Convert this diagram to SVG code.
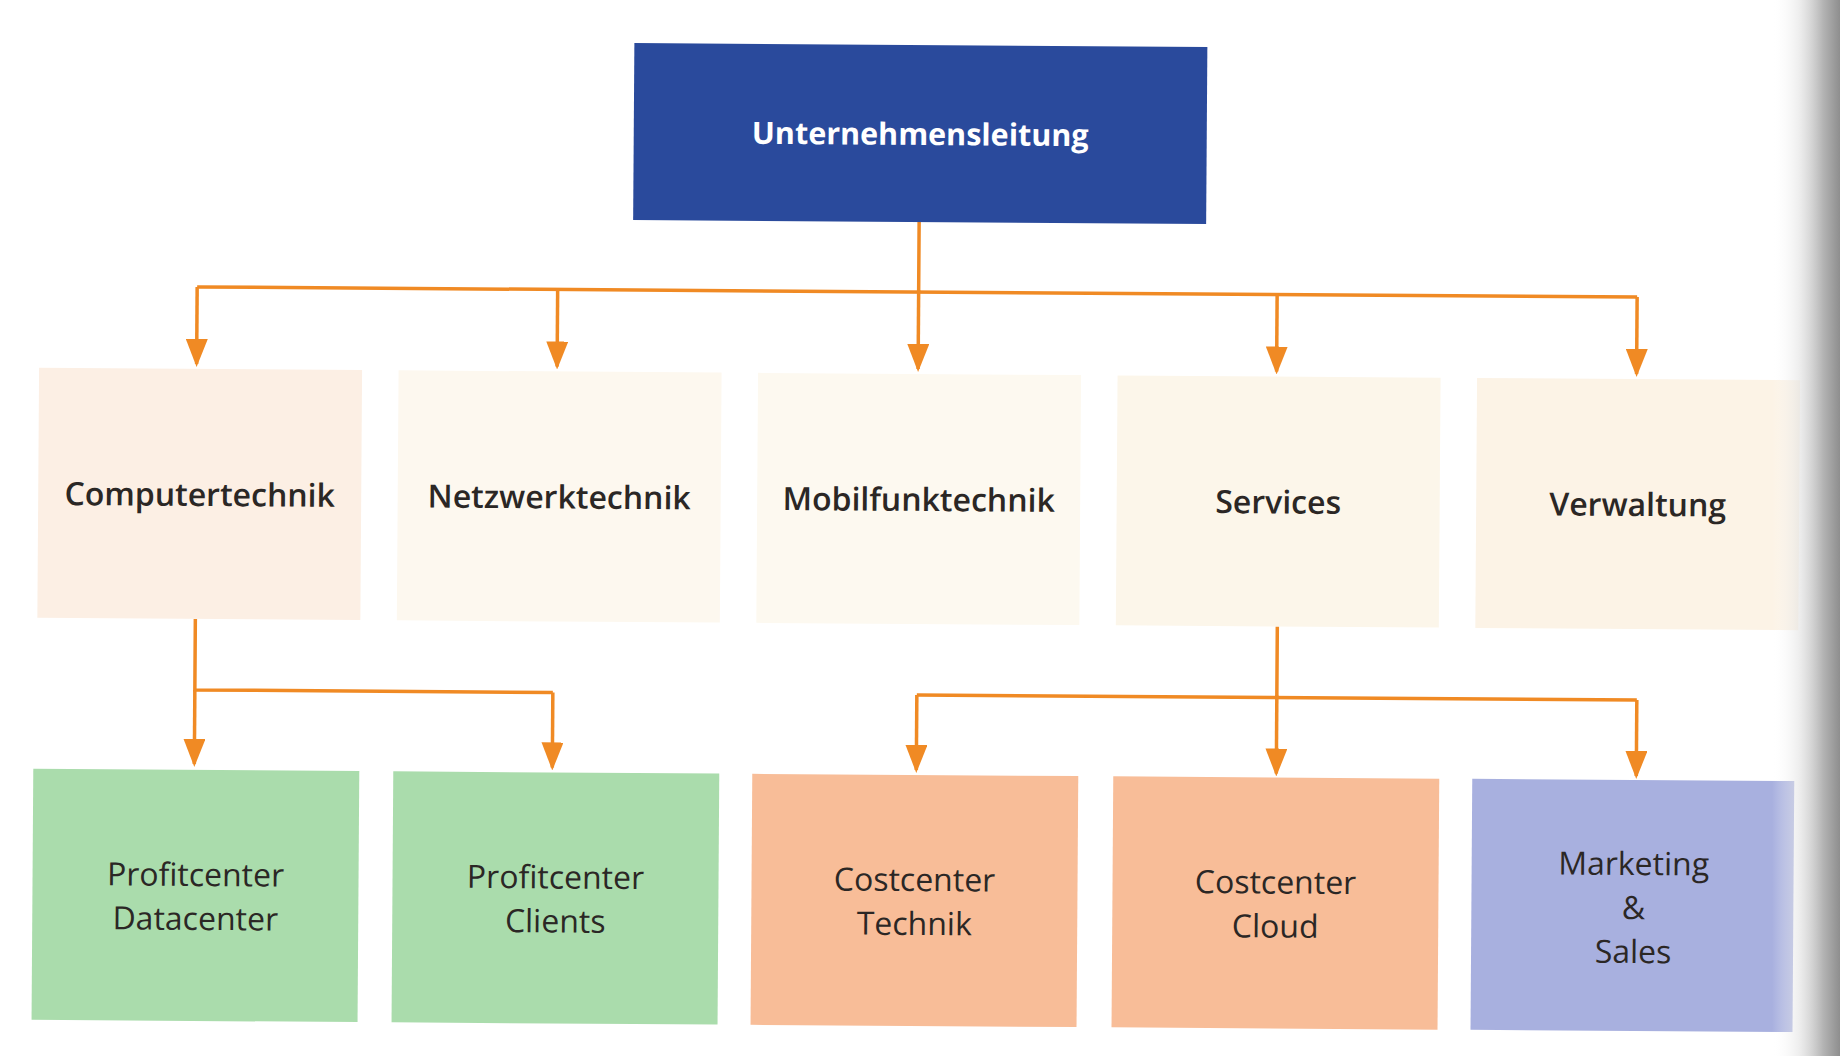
<svg xmlns="http://www.w3.org/2000/svg" width="1840" height="1056" viewBox="0 0 1840 1056">
  <style>
    .lbl { font-family: "Open Sans", "Noto Sans", "Liberation Sans", sans-serif; fill: #2b2725; text-anchor: middle; }
    .l1 { font-size: 32px; font-weight: 600; }
    .l2 { font-size: 32px; font-weight: 400; }
    .top { font-family: "Open Sans", "Noto Sans", "Liberation Sans", sans-serif; font-size: 30.5px; font-weight: 700; fill: #ffffff; text-anchor: middle; }
    .conn { fill: none; stroke: #f08a24; stroke-width: 3.5; }
  </style>
  <defs>
    <marker id="arr" markerUnits="userSpaceOnUse" markerWidth="28" markerHeight="22" viewBox="0 0 28 22" refX="25" refY="11" orient="auto">
      <path d="M0,0 L28,11 L0,22 z" fill="#f08a24"/>
    </marker>
    <linearGradient id="edge" x1="0" y1="0" x2="1" y2="0">
      <stop offset="0" stop-color="#ffffff" stop-opacity="0"/>
      <stop offset="0.4" stop-color="#e2e2e2" stop-opacity="0.6"/>
      <stop offset="0.75" stop-color="#b4b4b4"/>
      <stop offset="1" stop-color="#8e8e8e"/>
    </linearGradient>
  </defs>
  <rect x="0" y="0" width="1840" height="1056" fill="#ffffff"/>
  <g transform="rotate(0.4 920 528)">
    <g id="connectors">
      <path class="conn" d="M917,222 V292 M195.5,292 H1635.5"/>
      <path class="conn" marker-end="url(#arr)" d="M195.5,292 V369"/>
      <path class="conn" marker-end="url(#arr)" d="M556,292 V369"/>
      <path class="conn" marker-end="url(#arr)" d="M917,292 V369"/>
      <path class="conn" marker-end="url(#arr)" d="M1275.5,292 V369"/>
      <path class="conn" marker-end="url(#arr)" d="M1635.5,292 V369"/>
      <path class="conn" d="M196,624 V695 H554"/>
      <path class="conn" marker-end="url(#arr)" d="M196,695 V769"/>
      <path class="conn" marker-end="url(#arr)" d="M554,695 V770"/>
      <path class="conn" d="M1278,624 V695 M918,695 H1638"/>
      <path class="conn" marker-end="url(#arr)" d="M918,695 V770"/>
      <path class="conn" marker-end="url(#arr)" d="M1278,695 V771"/>
      <path class="conn" marker-end="url(#arr)" d="M1638,695 V771"/>
    </g>
    <g id="unternehmensleitung">
      <rect x="631" y="45" width="573" height="177" fill="#2a4a9c"/>
      <text class="top" x="917.5" y="145">Unternehmensleitung</text>
    </g>
    <g id="computertechnik">
      <rect x="38" y="374" width="323" height="250" fill="#fcefe4"/>
      <text class="lbl l1" x="199.5" y="511">Computertechnik</text>
    </g>
    <g id="netzwerktechnik">
      <rect x="397.5" y="374" width="323" height="250" fill="#fdf8ef"/>
      <text class="lbl l1" x="559" y="511">Netzwerktechnik</text>
    </g>
    <g id="mobilfunktechnik">
      <rect x="757" y="374" width="323" height="250" fill="#fdf9f0"/>
      <text class="lbl l1" x="918.5" y="511">Mobilfunktechnik</text>
    </g>
    <g id="services">
      <rect x="1116.5" y="374" width="323" height="250" fill="#fcf6ea"/>
      <text class="lbl l1" x="1278" y="511">Services</text>
    </g>
    <g id="verwaltung">
      <rect x="1476" y="374" width="323" height="250" fill="#fcf3e6"/>
      <text class="lbl l1" x="1637.5" y="511">Verwaltung</text>
    </g>
    <g id="profitcenter-datacenter">
      <rect x="35" y="775" width="326" height="251" fill="#aadcac"/>
      <text class="lbl l2" x="198" y="891">Profitcenter</text>
      <text class="lbl l2" x="198" y="935">Datacenter</text>
    </g>
    <g id="profitcenter-clients">
      <rect x="395" y="775" width="326" height="251" fill="#aadcac"/>
      <text class="lbl l2" x="558" y="891">Profitcenter</text>
      <text class="lbl l2" x="558" y="935">Clients</text>
    </g>
    <g id="costcenter-technik">
      <rect x="754" y="775" width="326" height="251" fill="#f8bd98"/>
      <text class="lbl l2" x="917" y="891">Costcenter</text>
      <text class="lbl l2" x="917" y="935">Technik</text>
    </g>
    <g id="costcenter-cloud">
      <rect x="1115" y="775" width="326" height="251" fill="#f8bd98"/>
      <text class="lbl l2" x="1278" y="891">Costcenter</text>
      <text class="lbl l2" x="1278" y="935">Cloud</text>
    </g>
    <g id="marketing-sales">
      <rect x="1474" y="775" width="322" height="251" fill="#a8b0df"/>
      <text class="lbl l2" x="1636" y="870">Marketing</text>
      <text class="lbl l2" x="1636" y="914">&amp;</text>
      <text class="lbl l2" x="1636" y="958">Sales</text>
    </g>
  </g>
  <rect x="1772" y="0" width="68" height="1056" fill="url(#edge)"/>
</svg>
